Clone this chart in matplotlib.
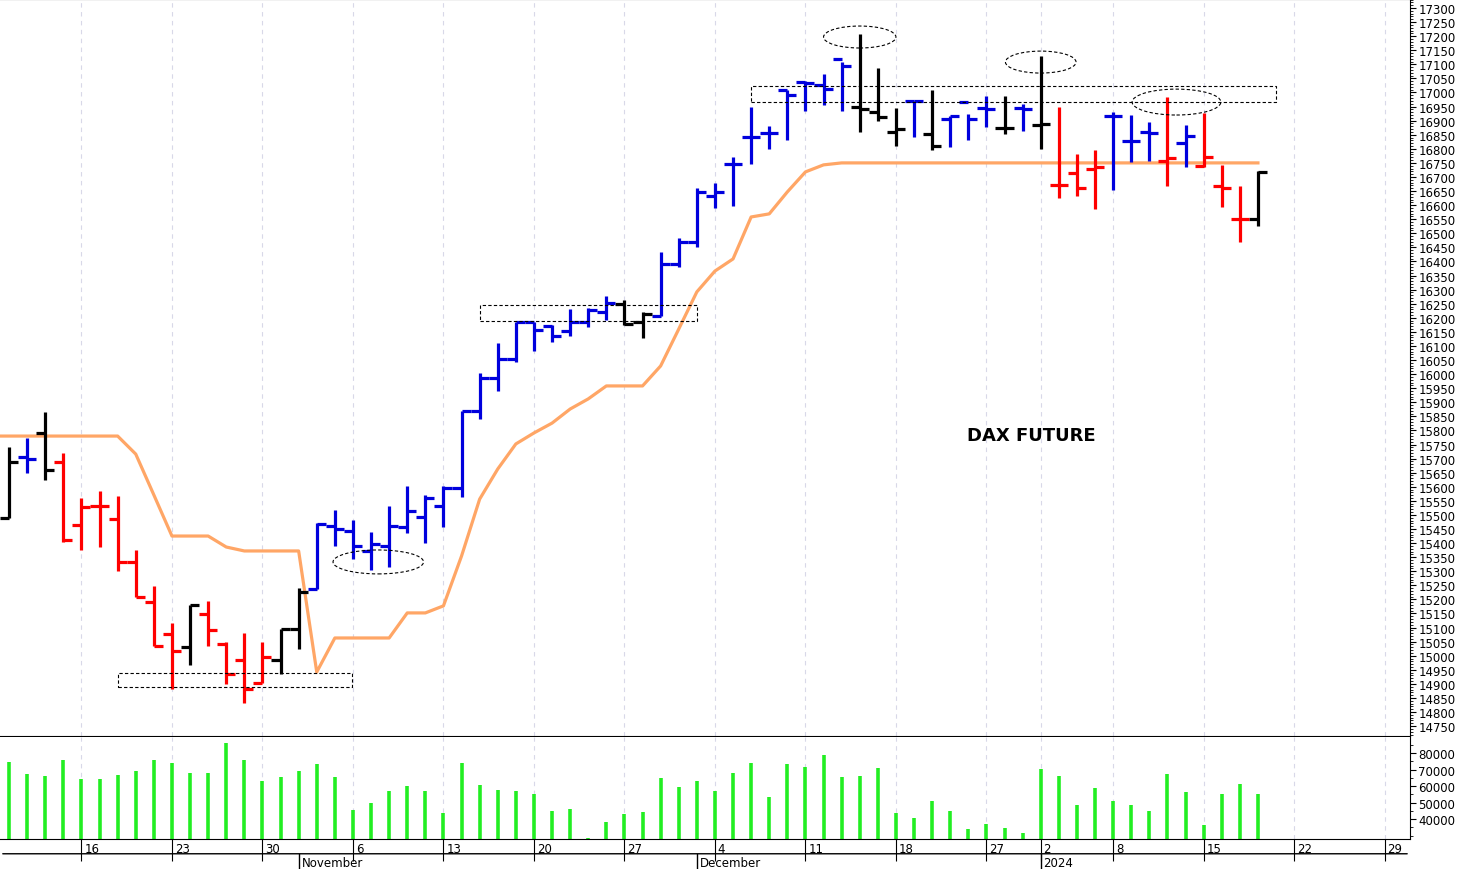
import numpy as np
import matplotlib.pyplot as plt
from matplotlib.patches import Rectangle, Ellipse
from matplotlib.ticker import MultipleLocator

# trading day index 0 = 10 Oct 2023 ... 69 = 18 Jan 2024
opens = [15489, 15706, 15791, 15688, 15464, 15532, 15485, 15333, 15191, 15077,
         15031, 15148, 15042, 14985, 14903, 14985, 15095, 15237, 15461, 15443,
         15372, 15390, 15457, 15493, 15532, 15596, 15869, 15986, 16054, 16185,
         16171, 16153, 16185, 16221, 16249, 16185, 16206, 16391, 16469, 16632,
         16746, 16842, 16856, 17009, 17037, 17027, 17119, 16948, 16931, 16860,
         16970, 16853, 16906, 16966, 16945, 16874, 16945, 16884, 16671, 16714,
         16728, 16917, 16828, 16860, 16757, 16821, 16740, 16668, 16551, 16551]
highs = [15741, 15773, 15865, 15720, 15560, 15585, 15567, 15375, 15248, 15116,
         15180, 15194, 15049, 15081, 15049, 15095, 15241, 15471, 15517, 15482,
         15439, 15532, 15603, 15571, 15603, 15869, 16004, 16111, 16185, 16185,
         16174, 16231, 16235, 16277, 16263, 16221, 16434, 16483, 16661, 16679,
         16771, 16948, 16881, 17009, 17041, 17066, 17108, 17208, 17087, 16945,
         16970, 17009, 16917, 16924, 16988, 16988, 16959, 17130, 16948, 16782,
         16796, 16931, 16920, 16895, 16984, 16885, 16927, 16743, 16668, 16721]
lows = [15489, 15649, 15624, 15404, 15375, 15386, 15301, 15209, 15035, 14882,
        14967, 15035, 14900, 14832, 14903, 14935, 15024, 15237, 15390, 15343,
        15304, 15315, 15436, 15400, 15457, 15564, 15841, 15940, 16043, 16082,
        16114, 16135, 16167, 16192, 16174, 16128, 16206, 16380, 16451, 16590,
        16597, 16746, 16799, 16831, 16934, 16956, 16934, 16860, 16899, 16810,
        16842, 16796, 16806, 16831, 16877, 16853, 16863, 16799, 16625, 16632,
        16586, 16654, 16753, 16757, 16668, 16735, 16735, 16593, 16469, 16526]
closes = [15688, 15700, 15659, 15411, 15528, 15532, 15333, 15209, 15035, 15017,
          15180, 15091, 14935, 14882, 14996, 15095, 15226, 15468, 15450, 15390,
          15397, 15461, 15514, 15560, 15596, 15869, 15986, 16054, 16185, 16157,
          16135, 16185, 16228, 16253, 16178, 16214, 16391, 16469, 16647, 16647,
          16746, 16842, 16856, 16991, 17034, 17012, 17094, 16941, 16913, 16870,
          16970, 16810, 16917, 16906, 16941, 16874, 16941, 16888, 16671, 16661,
          16736, 16917, 16828, 16856, 16767, 16846, 16771, 16661, 16551, 16718]
bar_colors = list("kbkrrrrrrrkrrrrkkb") + ["b"] * 16 + ["k", "k"] + ["b"] * 11 + \
    list("kkkbkbbbkbkrrrbbbrbrrrk")
stop_line = [15780] * 7 + [15716, 15571, 15425, 15425, 15425, 15386, 15372, 15372,
             15372, 15372, 14942, 15063, 15063, 15063, 15063, 15152, 15152, 15177,
             15354, 15556, 15663, 15752, 15791, 15826, 15876, 15912, 15958, 15958,
             15958, 16029, 16160, 16292, 16366, 16409, 16558, 16569, 16647, 16718,
             16743] + [16750] * 24
volume = [74400, 67500, 66300, 75800, 64400, 64000, 66500, 69300, 75800, 73800,
          68100, 68100, 85900, 75600, 63200, 65300, 69300, 73300, 65600, 45200,
          49900, 56800, 59800, 57200, 43800, 73800, 60400, 57600, 57000, 55200,
          44700, 46200, 28500, 38200, 43000, 44000, 64800, 59400, 62800, 56800,
          68100, 73800, 53100, 73300, 71500, 78600, 65600, 66300, 70900, 43500,
          40400, 51100, 44700, 33900, 36800, 34800, 31500, 70100, 65900, 48700,
          58800, 51000, 48400, 44700, 67500, 56200, 36400, 55200, 61000, 55200]
week_pos = [4, 9, 14, 19, 24, 29, 34, 39, 44, 49, 54, 57, 61, 66, 71, 76]
week_labels = ["16", "23", "30", "6", "13", "20", "27", "4", "11", "18", "27", "2",
               "8", "15", "22", "29"]
month_pos = [16, 38, 57]
month_labels = ["November", "December", "2024"]

cmap = {"k": "black", "b": "#0000DD", "r": "#FF0000"}
x = np.arange(len(opens))
xlim = (-0.5, 77.4)

fig = plt.figure(figsize=(14.59, 8.70), dpi=100)
ax = fig.add_axes([0, 0.1529, 0.9664, 0.8471])
axv = fig.add_axes([0, 0.0345, 0.9664, 0.1172])

for a in (ax, axv):
    a.set_xlim(*xlim)
    a.spines["left"].set_visible(False)
    a.spines["top"].set_visible(False)
    a.yaxis.tick_right()
    a.tick_params(axis="y", labelsize=8.5, length=4, pad=2)
    for p in week_pos:
        a.axvline(p, color="#d8d8e8", lw=0.8, ls=(0, (4, 4)), zorder=0)
ax.spines["top"].set_visible(True)

# price bars
cols = [cmap[c] for c in bar_colors]
ax.vlines(x, lows, highs, colors=cols, lw=2.3, zorder=3)
ax.hlines(opens, x - 0.5, x, colors=cols, lw=2.3, zorder=3)
ax.hlines(closes, x, x + 0.5, colors=cols, lw=2.3, zorder=3)
stop_x = np.concatenate([[-0.5], x])
ax.plot(stop_x, [stop_line[0]] + stop_line, color="#FFA666", lw=2.3, zorder=2)

# annotations
for (x0, x1, y0, y1) in [(6.0, 18.95, 14889, 14939), (26.0, 38.0, 16189, 16245),
                         (41.0, 70.0, 16966, 17023)]:
    ax.add_patch(Rectangle((x0, y0), x1 - x0, y1 - y0, fill=False, ls=(0, (3, 2)),
                           lw=0.8, ec="black", zorder=4))
for (cx, cy, w, h) in [(20.4, 15333, 5.0, 85), (47.0, 17197, 4.0, 78),
                       (57.0, 17108, 3.9, 78), (64.5, 16966, 4.9, 92)]:
    ax.add_patch(Ellipse((cx, cy), w, h, fill=False, ls=(0, (3, 2)), lw=0.8,
                         ec="black", zorder=4))
ax.text(52.9, 15785, "DAX FUTURE", fontsize=13, fontweight="bold", va="center")

ax.set_ylim(14715, 17332)
ax.set_yticks(np.arange(14750, 17301, 50))
ax.yaxis.set_minor_locator(MultipleLocator(10))
ax.tick_params(axis="y", which="minor", length=2)
ax.set_xticks([])

# volume
axv.vlines(x, 27900, volume, colors="#22EE22", lw=2.6)
axv.set_ylim(27900, 89700)
axv.set_yticks([40000, 50000, 60000, 70000, 80000])
axv.yaxis.set_minor_locator(MultipleLocator(5000))
axv.tick_params(axis="y", which="minor", length=2)
axv.set_xticks(week_pos)
axv.set_xticklabels([])
axv.tick_params(axis="x", length=16, direction="out")
for p, lab in zip(week_pos, week_labels):
    axv.annotate(lab, xy=(p, 0), xycoords=("data", "axes fraction"), xytext=(2, -2),
                 textcoords="offset points", ha="left", va="top", fontsize=8.5)
axv.annotate("", xy=(0, -0.145), xycoords="axes fraction", xytext=(1.0, -0.145),
             arrowprops=dict(arrowstyle="-", lw=1))
for p, lab in zip(month_pos, month_labels):
    axv.plot([p, p], [-0.145, -0.30], color="black", lw=1,
             transform=axv.get_xaxis_transform(), clip_on=False)
    axv.annotate(lab, xy=(p, -0.15), xycoords=("data", "axes fraction"), xytext=(2, -1),
                 textcoords="offset points", ha="left", va="top", fontsize=8.5)

fig.savefig("out.png", dpi=100)
